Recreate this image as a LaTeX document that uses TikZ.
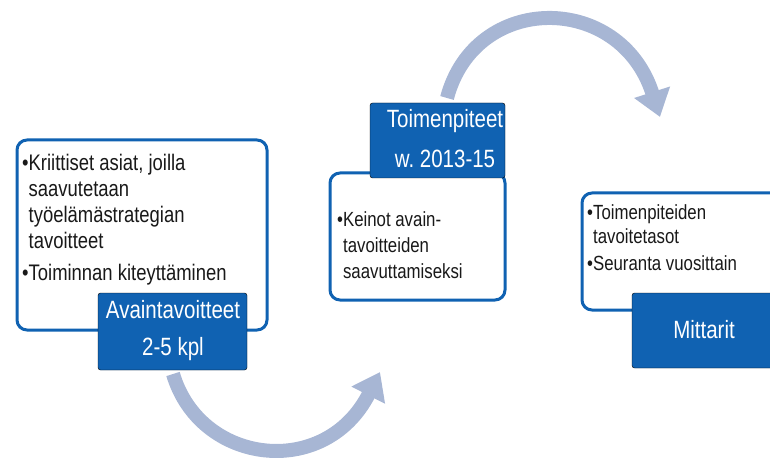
\documentclass[tikz,border=0pt]{standalone}
\usepackage{fontspec}
\setmainfont{Liberation Sans}
\newfontfamily\cond[FakeStretch=0.82]{Liberation Sans}
\usetikzlibrary{arrows.meta}
\definecolor{boxblue}{RGB}{16,98,178}
\definecolor{arrowgray}{RGB}{167,182,212}
\definecolor{ink}{RGB}{25,25,25}
\tikzset{
  panel/.style={draw=boxblue, line width=3pt, rounded corners=10pt, fill=white},
  tag/.style={fill=boxblue, rounded corners=2.5pt},
  tagtext/.style={text=white, font=\cond\fontsize{25}{38}\selectfont, inner sep=0pt, anchor=base, align=center},
  bodybig/.style={text=ink, font=\cond\fontsize{22.5}{26}\selectfont, inner sep=0pt, anchor=base west, align=left},
  bodysmall/.style={text=ink, font=\cond\fontsize{20.5}{26}\selectfont, inner sep=0pt, anchor=base west, align=left},
  flow/.style={draw=arrowgray, line width=14pt, -{Triangle[width=36pt,length=26pt]}}
}
\begin{document}
\begin{tikzpicture}[x=1pt,y=-1pt]
\useasboundingbox (0,0) rectangle (770,462);
\clip (0,0) rectangle (770,462);

% flow arrows
\coordinate (a1s) at (173,374);
\coordinate (a1e) at (380,372);
\draw[flow] (a1s) .. controls (200,465) and (325,480) .. (a1e);
\coordinate (a2s) at (447,98);
\coordinate (a2e) at (660,117);
\draw[flow] (a2s) .. controls (475,-8) and (620,-8) .. (a2e);

% panel 1 (text anchored at the baseline of its last line)
\draw[panel] (17,140) rectangle (267,330);
\node[bodybig] (t1) at (22,280) {•Kriittiset asiat, joilla\\\phantom{•}saavutetaan\\\phantom{•}työelämästrategian\\\phantom{•}tavoitteet\\[6pt]•Toiminnan kiteyttäminen};
\draw[tag] (98,293) rectangle (247,370);
\node[tagtext] (g1) at (173,355) {Avaintavoitteet\\[-1pt]2-5 kpl};

% panel 2
\draw[panel] (330,173) rectangle (505,300);
\node[bodysmall] (t2) at (337,278) {•Keinot avain-\\\phantom{•}tavoitteiden\\\phantom{•}saavuttamiseksi};
\draw[tag] (370,103) rectangle (505,178);
\node[tagtext] (g2) at (445,168) {Toimenpiteet\\[2pt]w.\ 2013-15};

% panel 3
\draw[panel] (582,193) rectangle (800,310);
\node[bodysmall] (t3) at (587,270) {•Toimenpiteiden\\[-2pt]\phantom{•}tavoitetasot\\[1pt]•Seuranta vuosittain};
\draw[tag] (632,293) rectangle (800,368);
\node[tagtext] (g3) at (704,338) {Mittarit};
\end{tikzpicture}
\end{document}
